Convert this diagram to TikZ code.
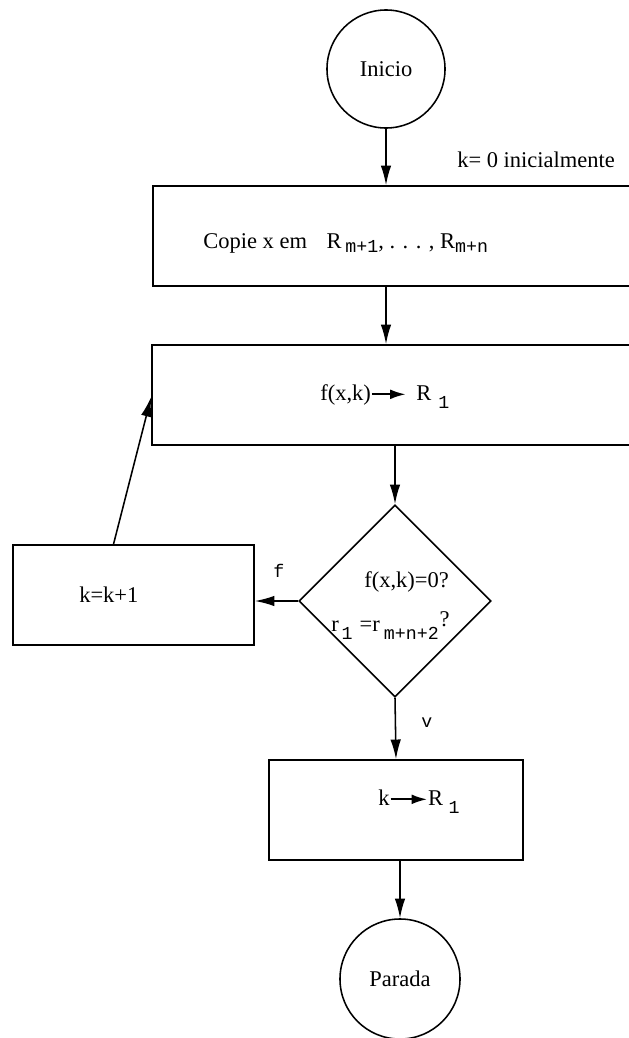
\documentclass[tikz,border=0pt]{standalone}
\usepackage{fontspec}
\setmainfont{Liberation Serif}
\setmonofont{Liberation Mono}
\usetikzlibrary{arrows.meta}
\usetikzlibrary{calc}
\usetikzlibrary{shapes.geometric}
\newcommand{\seta}[1]{\tikz[baseline=-0.55ex]\draw[line width=1.4pt,-{Latex[length=11pt,width=7pt]}] (0pt,0pt) -- (#1,0pt);}
\newcommand{\ind}[2]{\raisebox{#1}{\fontsize{13}{13}\ttfamily #2}}

\tikzset{
  fluxo/.style={line width=1.1pt, -{Latex[length=14pt,width=7.5pt]}},
  caixa/.style={draw, line width=1.1pt, rectangle, inner sep=0pt, minimum height=2.5cm},
  terminal/.style={draw, line width=1.1pt, circle, inner sep=0pt, minimum size=#1},
  losango/.style={draw, line width=1.1pt, diamond, inner sep=0pt, minimum width=4.8cm, minimum height=4.8cm},
  texto/.style={font=\fontsize{16}{19}\selectfont, inner sep=0pt},
  rotulo/.style={font=\fontsize{13}{13}\selectfont\ttfamily, inner sep=0pt}
}

\begin{document}
\begin{tikzpicture}[x=0.025cm, y=-0.025cm]

  \useasboundingbox (0,0) rectangle (629,1038);

  % Inicio e Parada
  \node[terminal=2.95cm, texto] (inicio) at (386,69) {Inicio};
  \node[terminal=3cm, texto] (parada) at (400,979) {Parada};

  % Caixas
  \node[caixa, minimum width=12.425cm] (copia) at (401.5,236) {};
  \node[caixa, minimum width=12.45cm] (calculo) at (401,395) {};
  \node[losango] (teste) at (395,601) {};
  \node[caixa, minimum width=6.025cm] (incr) at (133.5,595) {};
  \node[caixa, minimum width=6.35cm] (saida) at (396,810) {};

  % Textos
  \node[texto, anchor=base west] (nota) at (457,167) {k= 0 inicialmente};
  \node[texto, anchor=base west] (tcopia) at (203,248)
       {Copie x em\hspace{10pt} R\,\ind{-3pt}{m+1}, . . . , R\ind{-3pt}{m+n}};
  \node[texto, anchor=base west] (tcalculo) at (320,400)
       {f(x,k)\seta{24pt}\hspace{7pt}R\hspace{5pt}\ind{-6pt}{1}};
  \node[texto, anchor=base west] (tteste1) at (364,587) {f(x,k)=0?};
  \node[texto, anchor=base west] (tteste2) at (331,631)
       {r\hspace{2pt}\ind{-6pt}{1}\hspace{5pt}=r\hspace{3pt}\ind{-6pt}{m+n+2}\hspace{0.5pt}\raisebox{3pt}{?}};
  \node[texto, anchor=base west] (tincr) at (79,602) {k=k+1};
  \node[texto, anchor=base west] (tsaida) at (378,805) {k\seta{26pt}R\hspace{4pt}\ind{-6pt}{1}};

  \node[rotulo, anchor=base west] (lf) at (273,577) {f};
  \node[rotulo, anchor=base west] (lv) at (421,727) {v};

  % Setas
  \draw[fluxo] (inicio) -- (inicio |- copia.north);
  \draw[fluxo] (inicio |- copia.south) -- (inicio |- calculo.north);
  \draw[fluxo] (teste |- calculo.south) -- (teste.north);
  \draw[fluxo] (teste.west) -- (teste.west -| incr.east);
  \draw[fluxo] (teste.south) -- (saida.north);
  \draw[fluxo] (parada |- saida.south) -- (parada.north);
  \draw[fluxo] ($(incr.north)+(-20,0)$) -- ($(calculo.west)+(0,2)$);

\end{tikzpicture}
\end{document}
